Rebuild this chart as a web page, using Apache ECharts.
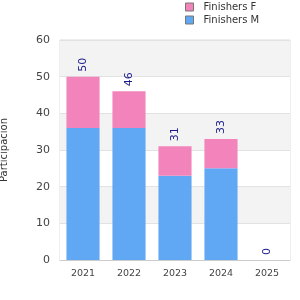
<!DOCTYPE html>
<html><head><meta charset="utf-8">
<script src="https://cdn.jsdelivr.net/npm/echarts@6/dist/echarts.min.js"></script>
<style>html,body{margin:0;padding:0;background:#fff}#c{width:300px;height:300px}</style>
</head><body><div id="c"></div>
<script>
const categories = ['2021','2022','2023','2024','2025'];
const finishersM = [36, 36, 23, 25, 0];
const finishersF = [14, 10, 8, 8, 0];
const totals = [50, 46, 31, 33, 0];
const yTicks = [0, 10, 20, 30, 40, 50, 60];

const chart = echarts.init(document.getElementById('c'), null, {renderer:'canvas'});
chart.setOption({
  animation: false,
  textStyle: {fontFamily: 'DejaVu Sans'},
  legend: {
    orient: 'vertical', left: 185, top: 2, padding: 0, itemWidth: 8, itemHeight: 8, itemGap: 3,
    icon: 'rect',
    data: ['Finishers F', 'Finishers M'],
    textStyle: {fontSize: 10, color: '#333', fontFamily: 'DejaVu Sans', padding: [0, 0, 0, 5]},
    itemStyle: {borderColor: '#777', borderWidth: 1}
  },
  grid: {left: 60, right: 10, top: 40, bottom: 40, show: true, borderColor: '#ddd', borderWidth: 1,
         backgroundColor: 'transparent', containLabel: false, outerBoundsMode: 'none'},
  xAxis: {
    type: 'category', data: categories,
    axisLine: {lineStyle: {color: '#ccc'}}, axisTick: {show: false},
    axisLabel: {color: '#444', fontSize: 9.5, margin: 9}
  },
  yAxis: {
    type: 'value', min: yTicks[0], max: yTicks[yTicks.length-1], interval: 10,
    name: 'Participación', nameLocation: 'middle', nameGap: 51, nameRotate: 90,
    nameTextStyle: {color: '#333', fontSize: 10},
    axisLabel: {color: '#444', fontSize: 11, margin: 10},
    axisLine: {show: false}, axisTick: {show: false},
    splitLine: {lineStyle: {color: '#e2e2e2'}},
    splitArea: {show: true, areaStyle: {color: ['#fff', '#f3f3f3']}}
  },
  series: [
    {name: 'Finishers M', type: 'bar', stack: 't', data: finishersM, barWidth: '72%',
     itemStyle: {color: '#60A8F4'}},
    {name: 'Finishers F', type: 'bar', stack: 't', data: finishersF, barWidth: '72%',
     itemStyle: {color: '#F283BB'},
     label: {show: true, position: 'top', rotate: 90, align: 'left', verticalAlign: 'middle', distance: 5,
       color: '#1a1a8c', fontSize: 11,
       formatter: p => String(totals[p.dataIndex])}}
  ]
});
</script></body></html>
